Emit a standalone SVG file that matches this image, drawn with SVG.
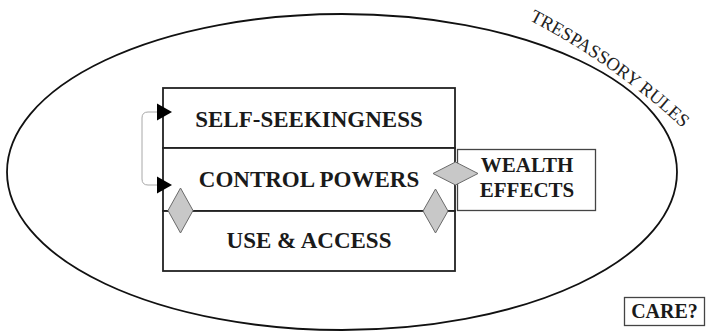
<svg xmlns="http://www.w3.org/2000/svg" width="709" height="333" viewBox="0 0 709 333">
<style>
.lbl{font-family:"Liberation Serif","Times New Roman",serif;font-weight:bold;fill:#1a1a1a;text-anchor:middle}
.box{fill:#fff;stroke:#222;stroke-width:1.8}
.sbox{fill:#fff;stroke:#444;stroke-width:1.3}
.dia{fill:#c8c8c8;stroke:#6a6a6a;stroke-width:1}
.conn{fill:none;stroke:#a8a8a8;stroke-width:1}
.head{fill:#000}
</style>
<defs>
<path id="arcpath" d="M529,20 Q614,64 688,133"/>
</defs>
<rect width="709" height="333" fill="#fff"/>
<g id="trespassory-rules">
<ellipse cx="342" cy="172" rx="335" ry="158" fill="none" stroke="#111" stroke-width="1.8"/>
<text font-family="'Liberation Serif','Times New Roman',serif" font-size="18.5" fill="#222"><textPath href="#arcpath">TRESPASSORY RULES</textPath></text>
</g>
<g id="self-seekingness">
<rect class="box" x="163" y="88" width="292" height="60"/>
<text class="lbl" x="309" y="127" font-size="23">SELF-SEEKINGNESS</text>
</g>
<g id="control-powers">
<rect class="box" x="163" y="148" width="292" height="63"/>
<text class="lbl" x="309" y="187" font-size="23">CONTROL POWERS</text>
</g>
<g id="use-access">
<rect class="box" x="163" y="211" width="292" height="60"/>
<text class="lbl" x="309" y="248" font-size="23">USE &amp; ACCESS</text>
</g>
<g id="wealth-effects">
<rect class="sbox" x="457.5" y="149.5" width="138" height="61"/>
<text class="lbl" x="527" y="172" font-size="21">WEALTH</text>
<text class="lbl" x="527" y="197" font-size="21">EFFECTS</text>
</g>
<g id="care">
<rect class="sbox" x="624.5" y="297.5" width="80" height="28"/>
<text class="lbl" x="664.5" y="318" font-size="20">CARE?</text>
</g>
<g id="connectors">
<path class="conn" d="M157,112 L148,112 Q142,112 142,118 L142,179 Q142,185 148,185 L157,185"/>
<path class="head" d="M157,103.5 L172,112 L157,120.5 Z"/>
<path class="head" d="M157,176.5 L172,185 L157,193.5 Z"/>
<polygon class="dia" points="180.5,188 193,210.5 180.5,233 168,210.5"/>
<polygon class="dia" points="435.5,189 448,211 435.5,233 423,211"/>
<polygon class="dia" points="455.5,162 478,173.5 455.5,185 433,173.5"/>
</g>
</svg>
